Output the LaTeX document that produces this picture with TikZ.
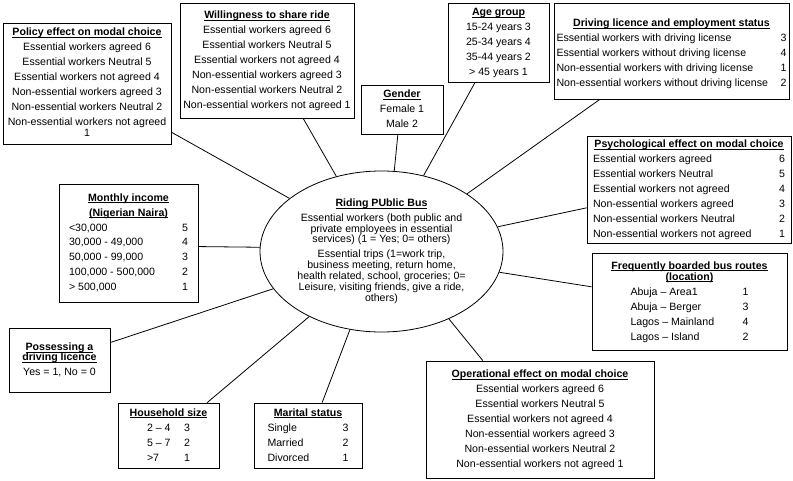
\documentclass[tikz,border=0pt]{standalone}
\usepackage{fontspec}
\setmainfont{Liberation Sans}
\usetikzlibrary{calc,shapes.geometric}
\newcommand\ttl[1]{\textbf{\underline{\smash{#1}}}}
\newcommand\rw[3]{\makebox[#1]{#2\hfill#3}}
\begin{document}
\begin{tikzpicture}[x=1pt,y=-1pt,
  box/.style={draw, line width=0.8pt, inner sep=0pt, align=center,
    font=\fontsize{10.6}{15}\selectfont},
  ln/.style={line width=0.8pt}]
\useasboundingbox (0,0) rectangle (793,481);
\fill[white] (0,0) rectangle (793,481);

\node[box, ellipse, minimum width=243pt, minimum height=161pt] (bus) at (381.5,251.5)
 {\begin{tabular}{@{}c@{}}
 \ttl{Riding PUblic Bus}\\
 Essential workers (both public and\\[-4.5pt]
 private employees in essential\\[-4.5pt]
 services) (1 = Yes; 0= others)\\
 Essential trips (1=work trip,\\[-4pt]
 business meeting, return home,\\[-4pt]
 health related, school, groceries; 0=\\[-4pt]
 Leisure, visiting friends, give a ride,\\[-4pt]
 others)
 \end{tabular}};

\node[box, minimum width=168pt, minimum height=121pt] (pol) at (87,83.5)
 {\begin{tabular}{@{}c@{}}
 \ttl{Policy effect on modal choice}\\
 Essential workers agreed 6\\
 Essential workers Neutral 5\\
 Essential workers not agreed 4\\
 Non-essential workers agreed 3\\
 Non-essential workers Neutral 2\\
 Non-essential workers not agreed\\[-4pt]
 1
 \end{tabular}};

\node[box, minimum width=174pt, minimum height=115pt] (wil) at (267,60.5)
 {\begin{tabular}{@{}c@{}}
 \ttl{Willingness to share ride}\\
 Essential workers agreed 6\\
 Essential workers Neutral 5\\
 Essential workers not agreed 4\\
 Non-essential workers agreed 3\\
 Non-essential workers Neutral 2\\
 Non-essential workers not agreed 1
 \end{tabular}};

\node[box, minimum width=82pt, minimum height=49pt] (gen) at (402,109.5)
 {\begin{tabular}{@{}c@{}}
 \ttl{Gender}\\
 Female 1\\
 Male 2
 \end{tabular}};

\node[box, minimum width=101pt, minimum height=79pt] (age) at (498.5,42.5)
 {\begin{tabular}{@{}c@{}}
 \ttl{Age group}\\
 15-24 years 3\\
 25-34 years 4\\
 35-44 years 2\\
 > 45 years 1
 \end{tabular}};

\node[box, minimum width=235pt, minimum height=96pt] (drv) at (671.5,51)
 {\begin{tabular}{@{}c@{}}
 \rule{0pt}{16.5pt}\ttl{Driving licence and employment status}\\
 \rw{230pt}{Essential workers with driving license}{3}\\
 \rw{230pt}{Essential workers without driving license}{4}\\
 \rw{230pt}{Non-essential workers with driving license}{1}\\
 \rw{230pt}{Non-essential workers without driving license}{2}
 \end{tabular}};

\node[box, minimum width=204pt, minimum height=107pt] (psy) at (689,189.5)
 {\begin{tabular}{@{}c@{}}
 \ttl{Psychological effect on modal choice}\\
 \rw{192pt}{Essential workers agreed}{6}\\
 \rw{192pt}{Essential workers Neutral}{5}\\
 \rw{192pt}{Essential workers not agreed}{4}\\
 \rw{192pt}{Non-essential workers agreed}{3}\\
 \rw{192pt}{Non-essential workers Neutral}{2}\\
 \rw{192pt}{Non-essential workers not agreed}{1}
 \end{tabular}};

\node[box, minimum width=195pt, minimum height=97pt] (frq) at (689.5,301.5)
 {\begin{tabular}{@{}c@{}}
 \ttl{Frequently boarded bus routes}\\[-4pt]
 \ttl{(location)}\\
 \rw{118pt}{Abuja – Area1}{1}\\
 \rw{118pt}{Abuja – Berger}{3}\\
 \rw{118pt}{Lagos – Mainland}{4}\\
 \rw{118pt}{Lagos – Island}{2}
 \end{tabular}};

\node[box, minimum width=228pt, minimum height=117pt] (opr) at (540,419.5)
 {\begin{tabular}{@{}c@{}}
 \ttl{Operational effect on modal choice}\\
 Essential workers agreed 6\\
 Essential workers Neutral 5\\
 Essential workers not agreed 4\\
 Non-essential workers agreed 3\\
 Non-essential workers Neutral 2\\
 Non-essential workers not agreed 1
 \end{tabular}};

\node[box, minimum width=108pt, minimum height=65pt] (mar) at (308,435.5)
 {\begin{tabular}{@{}c@{}}
 \ttl{Marital status}\\
 \rw{81pt}{Single}{3}\\
 \rw{81pt}{Married}{2}\\
 \rw{81pt}{Divorced}{1}
 \end{tabular}};

\node[box, minimum width=101pt, minimum height=65pt] (hh) at (168.5,435.5)
 {\begin{tabular}{@{}c@{}}
 \ttl{Household size}\\
 \rw{43pt}{2 – 4}{3}\\
 \rw{43pt}{5 – 7}{2}\\
 \rw{43pt}{>7}{1}
 \end{tabular}};

\node[box, minimum width=101pt, minimum height=64pt] (pos) at (59.5,360)
 {\begin{tabular}{@{}c@{}}
 \ttl{Possessing a}\\[-5pt]
 \ttl{driving licence}\\
 Yes = 1, No = 0
 \end{tabular}};

\node[box, minimum width=139pt, minimum height=118pt] (mon) at (128.5,243)
 {\begin{tabular}{@{}c@{}}
 \ttl{Monthly income}\\
 \ttl{(Nigerian Naira)}\\
 \rw{119pt}{<30,000}{5}\\
 \rw{119pt}{30,000 - 49,000}{4}\\
 \rw{119pt}{50,000 - 99,000}{3}\\
 \rw{119pt}{100,000 - 500,000}{2}\\
 \rw{119pt}{> 500,000}{1}
 \end{tabular}};

% connectors
\draw[ln] ($(pol.north east)!0.9!(pol.south east)$) -- (bus.150.5);
\draw[ln] ($(wil.south west)!0.707!(wil.south east)$) -- (bus.121.3);
\draw[ln] ($(gen.south west)!0.45!(gen.south east)$) -- (bus.81.9);
\draw[ln] ($(age.south west)!0.27!(age.south east)$) -- (bus.61.5);
\draw[ln] ($(drv.south west)!0.196!(drv.south east)$) -- (bus.34.4);
\draw[ln] ($(psy.north west)!0.67!(psy.south west)$) -- (bus.12);
\draw[ln] ($(frq.north west)!0.35!(frq.south west)$) -- (bus.-10);
\draw[ln] ($(opr.north west)!0.25!(opr.north east)$) -- (bus.-45.9);
\draw[ln] ($(mar.north west)!0.63!(mar.north east)$) -- (bus.-112.5);
\draw[ln] ($(hh.north west)!0.88!(hh.north east)$) -- (bus.-138.9);
\draw[ln] ($(pos.north east)!0.23!(pos.south east)$) -- (bus.-161.6);
\draw[ln] ($(mon.north east)!0.53!(mon.south east)$) -- (bus.178.4);
\end{tikzpicture}
\end{document}
